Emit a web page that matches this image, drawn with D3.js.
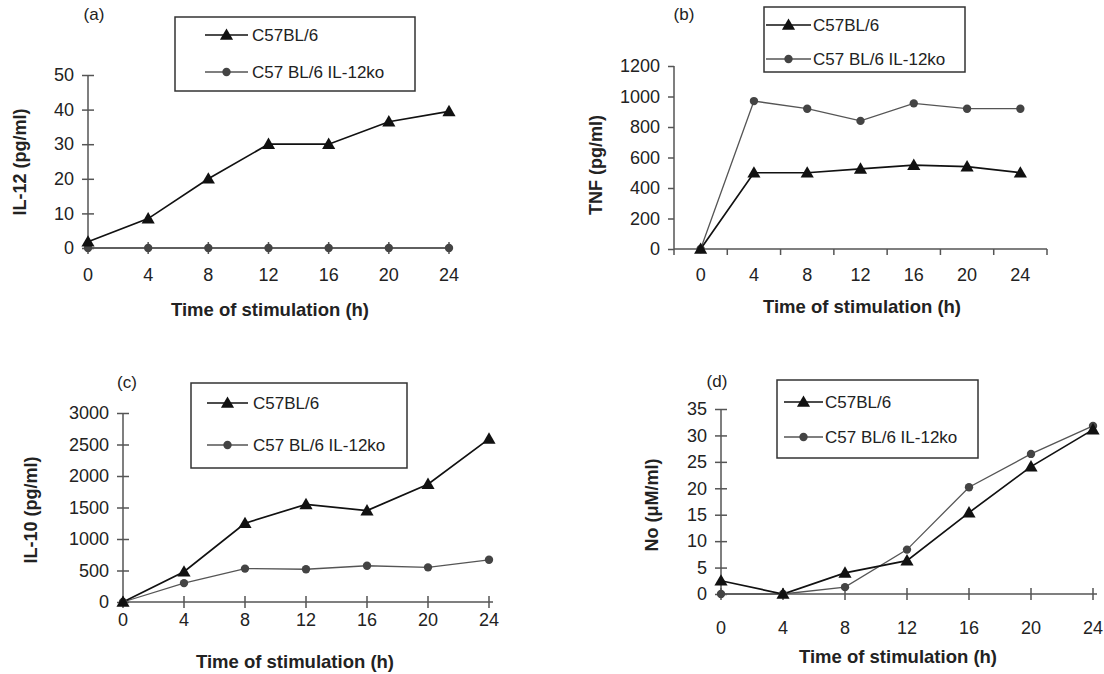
<!DOCTYPE html>
<html>
<head>
<meta charset="utf-8">
<script src="https://cdn.jsdelivr.net/npm/d3@7"></script>
<style>
  body { margin: 0; background: #fff; }
  svg text { font-family: "Liberation Sans", Arial, sans-serif; fill: #222; }
</style>
</head>
<body>
<div id="chart"></div>
<script>
const hours = [0, 4, 8, 12, 16, 20, 24];
const seriesNames = ["C57BL/6", "C57 BL/6 IL-12ko"];

const il12_wt = [1.8, 8.5, 20, 30, 30, 36.5, 39.5];
const il12_ko = [0, 0, 0, 0, 0, 0, 0];
const tnf_wt = [0, 500, 500, 525, 550, 540, 500];
const tnf_ko = [0, 970, 920, 840, 955, 920, 920];
const il10_wt = [0, 480, 1250, 1550, 1450, 1870, 2590];
const il10_ko = [0, 300, 530, 520, 575, 550, 670];
const no_wt = [2.5, 0, 4, 6.3, 15.4, 24.1, 31.1];
const no_ko = [0, 0, 1.3, 8.4, 20.2, 26.5, 31.8];

const ticks_a = [0, 10, 20, 30, 40, 50];
const ticks_b = [0, 200, 400, 600, 800, 1000, 1200];
const ticks_c = [0, 500, 1000, 1500, 2000, 2500, 3000];
const ticks_d = [0, 5, 10, 15, 20, 25, 30, 35];

const width = 1104, height = 674;
const wtColor = "#111", koColor = "#555", axisColor = "#555";

const svg = d3.select("#chart").append("svg")
    .attr("width", width)
    .attr("height", height);

const panels = [
  {tag: "(a)", ytitle: "IL-12 (pg/ml)", wt: il12_wt, ko: il12_ko, yt: ticks_a,
   x0: 88, x1: 449, y0: 248, y1: 75, band: false, crossX: true,
   tagPos: [94, 20], ytPos: [20, 162], xtY: 281, titleY: 316, titleX: 270,
   legend: {x: 175, y: 17, w: 240, h: 74, r1: 35, r2: 72, l0: 205, l1: 248, tx: 252}},
  {tag: "(b)", ytitle: "TNF (pg/ml)", wt: tnf_wt, ko: tnf_ko, yt: ticks_b,
   x0: 674, x1: 1047, y0: 249, y1: 66, band: true, crossX: false,
   tagPos: [684, 20], ytPos: [596, 165], xtY: 281, titleY: 313, titleX: 862,
   legend: {x: 764, y: 7, w: 201, h: 65, r1: 25, r2: 59, l0: 766, l1: 811, tx: 813}},
  {tag: "(c)", ytitle: "IL-10 (pg/ml)", wt: il10_wt, ko: il10_ko, yt: ticks_c,
   x0: 123, x1: 489, y0: 602, y1: 413, band: false, crossX: true,
   tagPos: [127, 388], ytPos: [31, 510], xtY: 626, titleY: 668, titleX: 295,
   legend: {x: 191, y: 383, w: 216, h: 85, r1: 403, r2: 445, l0: 207, l1: 248, tx: 253}},
  {tag: "(d)", ytitle: "No (\u03bcM/ml)", wt: no_wt, ko: no_ko, yt: ticks_d,
   x0: 721, x1: 1093, y0: 594, y1: 409, band: false, crossX: true,
   tagPos: [717, 387], ytPos: [652, 505], xtY: 634, titleY: 663, titleX: 898,
   legend: {x: 777, y: 380, w: 201, h: 78, r1: 402, r2: 437, l0: 784, l1: 823, tx: 825}}
];

const tri = d3.symbol().type(d3.symbolTriangle).size(75);
const circ = d3.symbol().type(d3.symbolCircle).size(55);

function drawPanel(p) {
  const g = svg.append("g");
  const ymax = p.yt[p.yt.length - 1];
  const y = d3.scaleLinear().domain([0, ymax]).range([p.y0, p.y1]);
  let x;
  if (p.band) {
    x = d3.scaleBand().domain(hours).range([p.x0, p.x1]);
  } else {
    x = d3.scalePoint().domain(hours).range([p.x0, p.x1]);
  }
  const px = d => p.band ? x(d) + x.bandwidth() / 2 : x(d);

  // y axis
  const yAxis = d3.axisLeft(y).tickValues(p.yt).tickSize(6).tickPadding(8).tickFormat(d3.format("d"));
  const ya = g.append("g").attr("transform", `translate(${p.x0},0)`).call(yAxis);
  ya.select(".domain").attr("stroke", axisColor).attr("stroke-width", 1.5).attr("d", `M0,${p.y0}V${p.y1}`);
  ya.selectAll(".tick line").attr("stroke", axisColor).attr("stroke-width", 1.5)
    .attr("x1", p.crossX ? 6 : 0);
  ya.selectAll(".tick text").style("font-size", "18px");

  // x axis
  const xEnd = p.band ? p.x1 : p.x1 + 4;
  g.append("line").attr("x1", p.x0).attr("x2", xEnd).attr("y1", p.y0).attr("y2", p.y0)
    .attr("stroke", axisColor).attr("stroke-width", 1.5);
  const tickXs = p.band ? hours.map(h => x(h)).concat([p.x1]) : hours.map(h => x(h));
  g.selectAll(".xt").data(tickXs).enter().append("line")
    .attr("x1", d => d).attr("x2", d => d)
    .attr("y1", p.crossX ? p.y0 - 6 : p.y0).attr("y2", p.y0 + 6)
    .attr("stroke", axisColor).attr("stroke-width", 1.5);
  g.selectAll(".xl").data(hours).enter().append("text")
    .attr("x", d => px(d)).attr("y", p.xtY)
    .attr("text-anchor", "middle").style("font-size", "18px")
    .text(d => d);

  // titles
  g.append("text").attr("x", p.titleX).attr("y", p.titleY).attr("text-anchor", "middle")
    .style("font-size", "18.5px").style("font-weight", "bold").text("Time of stimulation (h)");
  g.append("text").attr("transform", `translate(${p.ytPos[0]},${p.ytPos[1]}) rotate(-90)`)
    .attr("text-anchor", "middle").attr("dy", "0.35em")
    .style("font-size", "18px").style("font-weight", "bold").text(p.ytitle);
  g.append("text").attr("x", p.tagPos[0]).attr("y", p.tagPos[1]).attr("text-anchor", "middle")
    .style("font-size", "17px").text(p.tag);

  // series
  const line = d3.line().x((d, i) => px(hours[i])).y(d => y(d));
  g.append("path").datum(p.ko).attr("d", line).attr("fill", "none")
    .attr("stroke", koColor).attr("stroke-width", 1.3);
  g.append("path").datum(p.wt).attr("d", line).attr("fill", "none")
    .attr("stroke", wtColor).attr("stroke-width", 1.7);
  g.selectAll(".mko").data(p.ko).enter().append("path")
    .attr("d", circ).attr("fill", "#444")
    .attr("transform", (d, i) => `translate(${px(hours[i])},${y(d)})`);
  g.selectAll(".mwt").data(p.wt).enter().append("path")
    .attr("d", tri).attr("fill", wtColor)
    .attr("transform", (d, i) => `translate(${px(hours[i])},${y(d) + 1})`);

  // legend
  const L = p.legend;
  const lg = g.append("g");
  lg.append("rect").attr("x", L.x).attr("y", L.y).attr("width", L.w).attr("height", L.h)
    .attr("fill", "#fff").attr("stroke", "#333").attr("stroke-width", 1.5);
  [L.r1, L.r2].forEach((ry, k) => {
    lg.append("line").attr("x1", L.l0).attr("x2", L.l1).attr("y1", ry).attr("y2", ry)
      .attr("stroke", k === 0 ? wtColor : koColor).attr("stroke-width", k === 0 ? 1.7 : 1.3);
    lg.append("path").attr("d", k === 0 ? tri : circ).attr("fill", k === 0 ? wtColor : "#444")
      .attr("transform", `translate(${(L.l0 + L.l1) / 2},${ry + (k === 0 ? 1 : 0)})`);
    lg.append("text").attr("x", L.tx).attr("y", ry).attr("dy", "0.36em")
      .style("font-size", "17px").text(seriesNames[k]);
  });
}

panels.forEach(drawPanel);
</script>
</body>
</html>
